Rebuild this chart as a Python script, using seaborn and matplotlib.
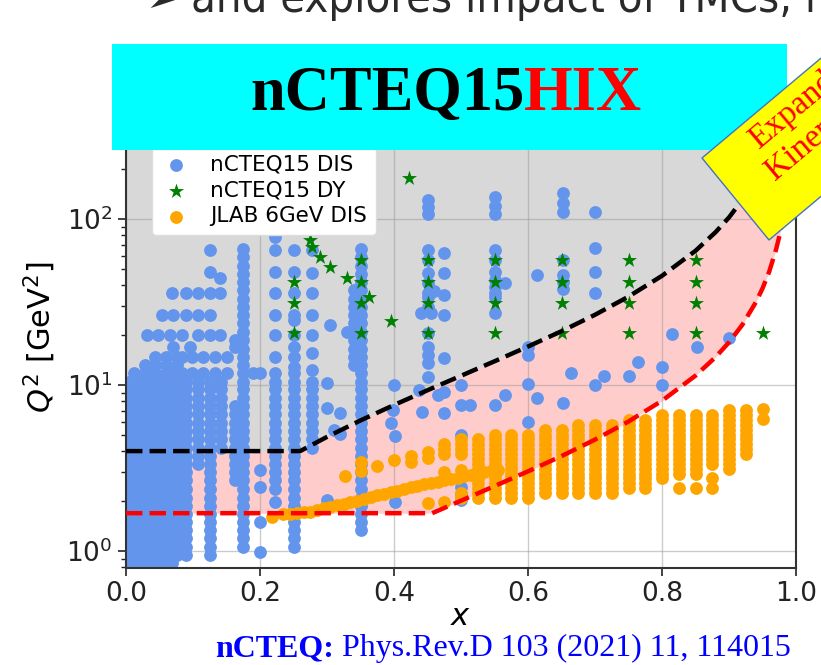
import matplotlib
matplotlib.use("Agg")
import matplotlib.pyplot as plt
import seaborn as sns
import pandas as pd
from matplotlib import font_manager
from matplotlib.patches import Rectangle, Polygon

# ---------------- kinematic cut curves ----------------
cut_x = [0.0, 0.26, 0.30, 0.35, 0.40, 0.457, 0.50, 0.55, 0.60, 0.65, 0.70, 0.75, 0.80,
         0.85, 0.88, 0.90, 0.92, 0.94, 0.95, 0.96, 0.97, 0.975, 0.98, 0.985, 0.99]
cut_black_q2 = [4.0, 4.0, 4.87, 6.12, 7.58, 9.57, 11.37, 13.9, 17.06, 21.1, 26.5, 34.1, 45.5,
                64.4, 83.4, 102.3, 130.8, 178, 216, 273, 368, 443, 557, 747, 1126]
cut_red_q2 = [1.69, 1.69, 1.69, 1.69, 1.69, 1.69, 2.01, 2.46, 3.02, 3.73, 4.69, 6.03, 8.04,
              11.39, 14.74, 18.09, 23.1, 31.5, 38.2, 48.2, 65.0, 78.4, 98.5, 133, 199]

# ---------------- nCTEQ15 DIS ----------------
dis_ladder = [0.85, 0.95, 1.06, 1.19, 1.33, 1.5, 1.68, 1.88, 2.1, 2.37, 2.66, 2.98, 3.35, 3.75,
              4.2, 4.7, 5.3, 5.9, 6.65, 7.45, 8.35, 9.4, 10.5, 11.8, 13.2, 14.8, 16.6, 18.7,
              21.0, 23.5, 26.4, 29.6, 33.2, 37.2, 41.8, 46.8, 52.5, 59.0, 66.0, 74.0]
dis_run_x = [0.004, 0.012, 0.020, 0.028, 0.036, 0.044, 0.052, 0.060, 0.068, 0.076,
             0.090, 0.107, 0.125, 0.142, 0.162, 0.175, 0.222, 0.250, 0.277, 0.340, 0.350]
dis_run_qmin = [0.85, 0.85, 0.85, 0.85, 0.85, 0.85, 0.85, 0.85, 0.85, 0.95,
                0.95, 3.35, 0.95, 4.2, 2.66, 1.06, 2.37, 1.06, 4.2, 13.2, 1.33]
dis_run_qmax = [10.5, 11.8, 10.5, 13.2, 11.8, 14.8, 10.5, 14.8, 11.8, 14.8,
                10.5, 10.5, 10.5, 10.5, 7.45, 66.0, 10.5, 10.5, 10.5, 37.2, 66.0]

dis_sparse_x = ([0.031, 0.048, 0.066, 0.084, 0.107, 0.125, 0.140]
                + [0.070, 0.096, 0.162, 0.162]
                + [0.054, 0.070, 0.090, 0.107, 0.125]
                + [0.069, 0.090, 0.107, 0.125, 0.140, 0.140, 0.125, 0.125]
                + [0.084, 0.099, 0.115, 0.133, 0.150]
                + [0.084, 0.099, 0.115, 0.133, 0.150, 0.190, 0.200]
                + [0.222] * 8
                + [0.250] * 10
                + [0.277] * 7
                + [0.200, 0.200, 0.200, 0.200, 0.222]
                + [0.300, 0.300, 0.310, 0.305, 0.330, 0.300, 0.320, 0.320]
                + [0.400, 0.398, 0.395, 0.402, 0.402]
                + [0.440, 0.437, 0.442, 0.465, 0.460, 0.455]
                + [0.450] * 15
                + [0.475] * 7
                + [0.500, 0.500, 0.500, 0.500, 0.500, 0.500, 0.514]
                + [0.550] * 12
                + [0.565, 0.565, 0.600, 0.600, 0.600, 0.600, 0.614, 0.614]
                + [0.652] * 8
                + [0.664, 0.700, 0.700, 0.700, 0.700, 0.700]
                + [0.713, 0.750, 0.764, 0.800, 0.800, 0.815, 0.852, 0.900])
dis_sparse_q2 = ([20, 20, 20, 20, 20, 20, 20]
                 + [17, 17, 17, 18.7]
                 + [26.4, 26.4, 26.4, 26.4, 26.4]
                 + [36, 36, 36, 36, 36, 44, 48, 65]
                 + [14.8, 14.8, 14.8, 14.8, 14.8]
                 + [11.8, 11.8, 11.8, 11.8, 11.8, 11.8, 11.8]
                 + [11.8, 14.8, 20, 26.4, 36, 48, 65, 78]
                 + [11.8, 12.8, 14.8, 17, 20, 24.5, 26.4, 36, 48, 65]
                 + [12.4, 15.5, 20, 26.4, 36, 47, 65]
                 + [0.99, 1.5, 2.43, 3.07, 1.97]
                 + [10.3, 7.3, 5.35, 23, 20.8, 2.03, 6.8, 5.1]
                 + [10, 7.1, 5.9, 4.9, 1.97]
                 + [27, 9.3, 6.9, 8.7, 37, 27]
                 + [130, 118, 108, 65, 57, 47, 41, 36, 34, 29.5, 20.5, 17, 15.2, 13.6, 11.2]
                 + [62.7, 47, 35, 26.4, 14.5, 9.1, 6.8]
                 + [10, 7.6, 5.0, 2.43, 2.2, 2.03, 7.6]
                 + [135, 120, 108, 65, 57, 48, 43, 39, 36, 34, 27, 7.6]
                 + [41, 8.7, 17, 15.2, 10.2, 6.0, 46, 8.4]
                 + [143, 125, 110, 57, 46, 42, 38, 7.8]
                 + [11.8, 110, 67, 48, 36, 10]
                 + [11.3, 11.3, 13.7, 12.8, 10, 20.4, 17, 19.2])

# ---------------- nCTEQ15 DY ----------------
dy_x = ([0.25] * 3 + [0.35] * 4 + [0.45] * 4 + [0.55] * 4 + [0.65] * 4 + [0.75] * 4
        + [0.85] * 4 + [0.95]
        + [0.275, 0.278, 0.290, 0.305, 0.330, 0.362, 0.396, 0.423])
dy_q2 = ([42, 31, 20.6] + [57, 42, 31, 20.6] * 6 + [20.6]
         + [74.7, 67.8, 59.0, 51.4, 44.1, 33.9, 24.3, 177])

# ---------------- JLAB 6GeV DIS ----------------
jlab_ladder = [1.95, 2.09, 2.23, 2.39, 2.56, 2.74, 2.93, 3.13, 3.35, 3.59, 3.84, 4.11,
               4.4, 4.7, 5.03, 5.39, 5.76, 6.17, 6.6, 7.06]
jlab_col_x = [0.475, 0.500, 0.525, 0.550, 0.575, 0.600, 0.625, 0.650, 0.675, 0.700,
              0.725, 0.750, 0.775, 0.800, 0.825, 0.850, 0.875, 0.900, 0.925]
jlab_col_qmin = [3.84, 3.84, 2.09, 2.09, 2.09, 2.09, 2.23, 2.23, 2.23, 2.23,
                 2.23, 2.39, 2.39, 2.74, 2.93, 2.93, 3.35, 3.13, 3.84]
jlab_col_qmax = [4.4, 4.7, 4.7, 5.03, 5.03, 5.03, 5.39, 5.39, 5.76, 5.76,
                 5.76, 6.17, 6.17, 6.6, 6.6, 6.6, 6.6, 7.06, 7.06]
jlab_extra_x = ([0.825, 0.850, 0.875, 0.875, 0.950, 0.950]
                + [0.327, 0.350, 0.350, 0.375, 0.400, 0.425, 0.425, 0.450, 0.450]
                + [0.450, 0.475, 0.500, 0.500, 0.475, 0.500]
                + [0.218, 0.235, 0.245, 0.255, 0.265, 0.275, 0.285, 0.295, 0.305, 0.315,
                   0.325, 0.335, 0.345, 0.355, 0.365, 0.375, 0.385, 0.395, 0.405, 0.415,
                   0.425, 0.435, 0.445, 0.455, 0.465, 0.475, 0.485, 0.495, 0.505, 0.515,
                   0.525, 0.535, 0.545, 0.555])
jlab_extra_q2 = ([2.39, 2.39, 2.74, 2.39, 7.2, 6.2]
                 + [2.83, 3.45, 3.05, 3.25, 3.53, 3.73, 3.43, 3.95, 3.63]
                 + [1.95, 1.97, 2.09, 2.23, 3.0, 3.07]
                 + [1.60, 1.66, 1.68, 1.70, 1.71, 1.73, 1.77, 1.81, 1.85, 1.89,
                    1.93, 1.97, 2.01, 2.06, 2.11, 2.16, 2.21, 2.26, 2.31, 2.36,
                    2.42, 2.47, 2.52, 2.57, 2.62, 2.67, 2.72, 2.77, 2.83, 2.88,
                    2.94, 2.99, 3.04, 3.09])

legend_labels = ["nCTEQ15 DIS", "nCTEQ15 DY", "JLAB 6GeV DIS"]
x_ticks = [0.0, 0.2, 0.4, 0.6, 0.8, 1.0]


def expand(cx, qmin, qmax, ladder):
    xs, qs = [], []
    for x, lo, hi in zip(cx, qmin, qmax):
        for q in ladder:
            if lo * 0.999 <= q <= hi * 1.001:
                xs.append(x)
                qs.append(q)
    return xs, qs


bx, bq = expand(dis_run_x, dis_run_qmin, dis_run_qmax, dis_ladder)
dis = pd.DataFrame({"x": bx + dis_sparse_x, "Q2": bq + dis_sparse_q2})
dy = pd.DataFrame({"x": dy_x, "Q2": dy_q2})
ox, oq = expand(jlab_col_x, jlab_col_qmin, jlab_col_qmax, jlab_ladder)
jlab = pd.DataFrame({"x": ox + jlab_extra_x, "Q2": oq + jlab_extra_q2})
cuts = pd.DataFrame({"x": cut_x, "black": cut_black_q2, "red": cut_red_q2})

# ---------------- layout helpers (pixels -> figure fraction) ----------------
W, H = 821, 665


def fx(px):
    return px / W


def fy(py):
    return 1 - py / H


fig = plt.figure(figsize=(8.21, 6.65), dpi=100)
fig.patch.set_facecolor("white")
ax = fig.add_axes([fx(126), fy(568), fx(796) - fx(126), fy(106) - fy(568)])
ax.set_yscale("log")
ax.set_xlim(0, 1.0)
ax.set_ylim(0.79, 480)

# shaded regions
ax.fill_between(cuts["x"], cuts["black"], 1e4, color="gray", alpha=0.3, lw=0, zorder=0.5)
ax.fill_between(cuts["x"], cuts["red"], cuts["black"], color="red", alpha=0.2, lw=0, zorder=0.5)

ax.grid(True, which="major", color="#9a9a9a", alpha=0.5, lw=1.0, zorder=1.5)

sns.scatterplot(data=dis, x="x", y="Q2", ax=ax, color="cornflowerblue", s=85,
                linewidth=0, label=legend_labels[0], zorder=2)
sns.scatterplot(data=dy, x="x", y="Q2", ax=ax, color="green", marker="*", s=130,
                linewidth=0, label=legend_labels[1], zorder=2.1)
sns.scatterplot(data=jlab, x="x", y="Q2", ax=ax, color="orange", s=85,
                linewidth=0, label=legend_labels[2], zorder=2.2)

sns.lineplot(data=cuts, x="x", y="black", ax=ax, color="black", linestyle="--", lw=3.2,
             sort=False, estimator=None, legend=False, zorder=3)
sns.lineplot(data=cuts, x="x", y="red", ax=ax, color="red", linestyle="--", lw=3.2,
             sort=False, estimator=None, legend=False, zorder=3)

ax.set_xticks(x_ticks)
ax.set_xticklabels([f"{t:.1f}" for t in x_ticks])
ax.tick_params(axis="both", which="major", labelsize=19, length=6, width=1.2,
               direction="out", colors="#222222")
ax.tick_params(axis="y", which="minor", length=3.5, width=1.0, colors="#222222")
for sp in ax.spines.values():
    sp.set_linewidth(1.5)
    sp.set_color("#333333")

ax.set_xlabel("$x$", fontsize=22, labelpad=-4)
ax.set_ylabel("$Q^2$ [GeV$^2$]", fontsize=22, labelpad=6)

handles, labels = ax.get_legend_handles_labels()
hmap = dict(zip(labels, handles))
leg = ax.legend([hmap[l] for l in legend_labels], legend_labels, loc="lower left",
                bbox_to_anchor=((152 - 126) / 670, (568 - 235) / 462), borderaxespad=0,
                fontsize=15.5, frameon=True, framealpha=1.0, edgecolor="#dddddd",
                labelspacing=0.28, handletextpad=0.9, handlelength=1.4, borderpad=0.4)
leg.set_zorder(5)

# ---------------- slide decorations ----------------
avail = {(f.name, f.stretch) for f in font_manager.fontManager.ttflist}
names = {n for n, _ in avail}
if "Liberation Sans Narrow" in names:
    top_family, top_stretch = "Liberation Sans Narrow", "normal"
elif ("DejaVu Sans", "condensed") in avail or ("DejaVu Sans", "semi-condensed") in avail:
    top_family, top_stretch = "DejaVu Sans", "condensed"
elif "Roboto Condensed" in names:
    top_family, top_stretch = "Roboto Condensed", "normal"
else:
    top_family, top_stretch = "Liberation Sans", "normal"

fig.canvas.draw()
probe = fig.text(0, 0, "and explores impact of TMCs,", fontsize=40, family=[top_family],
                 fontstretch=top_stretch)
pw = probe.get_window_extent(fig.canvas.get_renderer()).width
probe.remove()
top_size = 40 * 600.0 / pw

fig.text(fx(145), fy(12), "\u27a2", fontsize=30, family=["DejaVu Sans"], color="#2a2a2a",
         va="baseline", ha="left", zorder=11)
fig.text(fx(191), fy(12), "and explores impact of TMCs, higher twist", fontsize=top_size,
         family=[top_family, "DejaVu Sans"], fontstretch=top_stretch,
         color="#2a2a2a", va="baseline", ha="left", zorder=11)

fig.add_artist(Rectangle((fx(112), fy(150)), fx(787) - fx(112), fy(44) - fy(150),
                         transform=fig.transFigure, facecolor="#00ffff",
                         edgecolor="none", zorder=10))
t1 = fig.text(fx(250), fy(110), "nCTEQ15", fontsize=45, fontweight="bold",
              family=["Liberation Serif"], color="black", va="baseline", ha="left", zorder=11)
fig.canvas.draw()
r = fig.canvas.get_renderer()
bb = t1.get_window_extent(r)
fig.text(bb.x1 / fig.bbox.width, fy(110), "HIX", fontsize=45, fontweight="bold",
         family=["Liberation Serif"], color="red", va="baseline", ha="left", zorder=11)

ux, uy = 0.766, -0.643
A = (702, 158)
B = (769, 240)
C = (B[0] + 400 * ux, B[1] + 400 * uy)
D = (A[0] + 400 * ux, A[1] + 400 * uy)
fig.add_artist(Polygon([(fx(p[0]), fy(p[1])) for p in (A, B, C, D)], closed=True,
                       transform=fig.transFigure, facecolor="yellow",
                       edgecolor="#4472c4", lw=1.0, zorder=12))
fig.text(fx(809.5), fy(107), "Expanded", rotation=40, rotation_mode="anchor",
         ha="center", va="baseline", fontsize=24, family=["Liberation Serif"],
         color="red", zorder=13)
fig.text(fx(833), fy(132.5), "Kinematics", rotation=40, rotation_mode="anchor",
         ha="center", va="baseline", fontsize=24, family=["Liberation Serif"],
         color="red", zorder=13)

t2 = fig.text(fx(215), fy(656), "nCTEQ:", fontsize=23, fontweight="bold",
              family=["Liberation Serif"], color="#0000ff", va="baseline", ha="left")
fig.canvas.draw()
bb2 = t2.get_window_extent(fig.canvas.get_renderer())
fig.text(bb2.x1 / fig.bbox.width, fy(656), " Phys.Rev.D 103 (2021) 11, 114015", fontsize=23,
         family=["Liberation Serif"], color="#0000ff", va="baseline", ha="left")

fig.savefig("out.png", dpi=100, facecolor="white")
